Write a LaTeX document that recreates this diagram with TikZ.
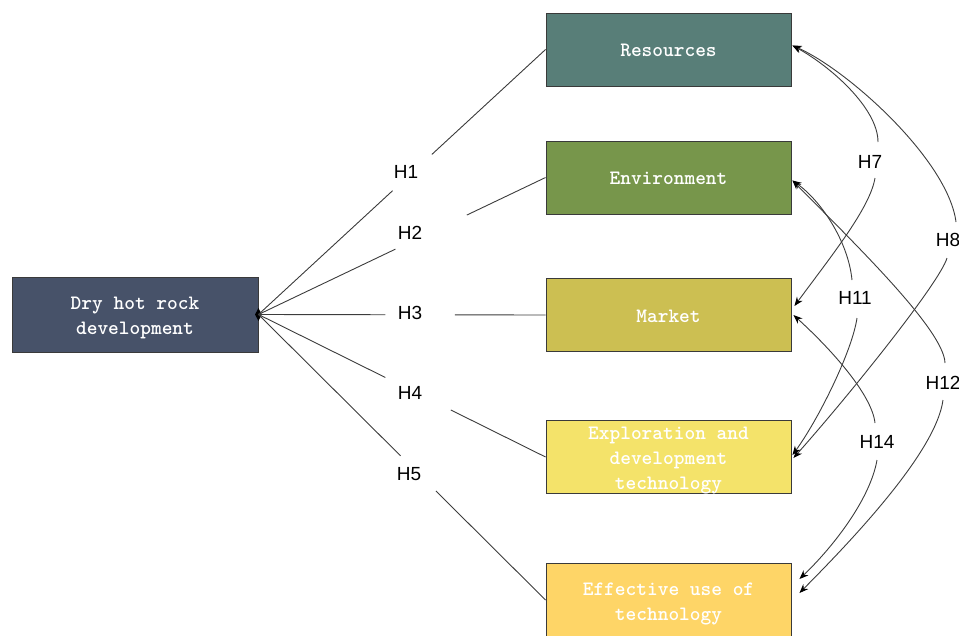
\documentclass[tikz,border=0pt]{standalone}
\usepackage{fontspec}
\newfontfamily\lblfont{Liberation Sans}
\newfontfamily\boxfont{lmmonolt10-bold.otf}
\usetikzlibrary{calc,arrows.meta,shapes.geometric}

\definecolor{cSource}{HTML}{475269}
\definecolor{cRes}{HTML}{587E78}
\definecolor{cEnv}{HTML}{77964B}
\definecolor{cMkt}{HTML}{CCBF52}
\definecolor{cExp}{HTML}{F4E36A}
\definecolor{cEff}{HTML}{FED567}
\definecolor{cLine}{HTML}{3C3C3C}
\definecolor{cBorder}{HTML}{3A3A3A}

\tikzset{
  box/.style={draw=cBorder, line width=0.9pt, minimum width=245pt, minimum height=73pt,
    inner sep=0pt},
  boxtxt/.style={inner sep=0pt, align=center, text=white,
    font=\boxfont\fontsize{20.4}{25}\selectfont},
  hyp/.style={font=\lblfont\fontsize{19}{22}\selectfont, text=black, inner sep=0pt},
  link/.style={draw=cLine, line width=0.9pt},
  rel/.style={draw=cLine, line width=0.9pt},
  tip/.style={-{Stealth[length=9pt,width=7pt,black]}},
  pit/.style={{Stealth[length=9pt,width=7pt,black]}-},
}

\begin{document}
\begin{tikzpicture}[x=1pt,y=-1pt]
\useasboundingbox (0,0) rectangle (959,635);

% boxes
\node[box, fill=cSource, minimum width=246pt, minimum height=75pt] (src) at (135,314.5) {};
\node[box, fill=cRes] (res) at (668.5,49.5) {};
\node[box, fill=cEnv] (env) at (668.5,177.5) {};
\node[box, fill=cMkt] (mkt) at (668.5,315) {};
\node[box, fill=cExp] (exp) at (668.5,457) {};
\node[box, fill=cEff] (eff) at (668.5,600) {};

% captions, set slightly below the box centres
\node[boxtxt] (srct) at ($(src.center)+(0,3.5)$) {Dry hot rock\\development};
\node[boxtxt] (rest) at ($(res.center)+(0,0.5)$) {Resources};
\node[boxtxt] (envt) at ($(env.center)+(0,1)$) {Environment};
\node[boxtxt] (mktt) at ($(mkt.center)+(0,1)$) {Market};
\node[boxtxt] (expt) at ($(exp.center)+(0,4)$) {Exploration and\\development\\technology};
\node[boxtxt] (efft) at ($(eff.center)+(0,3.5)$) {Effective use of\\technology};

% hub where the five links meet
\node[diamond, fill=black, inner sep=0pt, minimum width=7pt, minimum height=13pt] (hub) at (src.east) {};

% links from the source to each factor, broken around their labels
\node[hyp] (h1) at (406,172) {H1};
\node[hyp] (h2) at (410,233) {H2};
\node[hyp] (h3) at (410,313) {H3};
\node[hyp] (h4) at (410,393) {H4};
\node[hyp] (h5) at (409,474) {H5};

\draw[link] (src.east) -- ($(src.east)!0.467!(res.west)$) coordinate (a1);
\draw[link] ($(src.east)!0.604!(res.west)$) coordinate (b1) -- (res.west);
\draw[link] (src.east) -- ($(src.east)!0.477!(env.west)$) coordinate (a2);
\draw[link] ($(src.east)!0.726!(env.west)$) coordinate (b2) -- (env.west);
\draw[link] (src.east) -- ($(src.east)!0.442!(mkt.west)$) coordinate (a3);
\draw[link] ($(src.east)!0.684!(mkt.west)$) coordinate (b3) -- (mkt.west);
\draw[link] (src.east) -- ($(src.east)!0.442!(exp.west)$) coordinate (a4);
\draw[link] ($(src.east)!0.670!(exp.west)$) coordinate (b4) -- (exp.west);
\draw[link] (src.east) -- ($(src.east)!0.495!(eff.west)$) coordinate (a5);
\draw[link] ($(src.east)!0.618!(eff.west)$) coordinate (b5) -- (eff.west);

% relations between factors
\node[hyp] (h7) at (870,162) {H7};
\node[hyp] (h8) at (948,240) {H8};
\node[hyp] (h11) at (855,298) {H11};
\node[hyp] (h12) at (943,383) {H12};
\node[hyp] (h14) at (877,442) {H14};

\coordinate (r7a) at (878,142);  \coordinate (r7b) at (875,178);
\coordinate (r8a) at (956,222);  \coordinate (r8b) at (947,258);
\coordinate (r11a) at (852,280); \coordinate (r11b) at (857,318);
\coordinate (r12a) at (945,363); \coordinate (r12b) at (943,400);
\coordinate (r14a) at (875,423); \coordinate (r14b) at (877,460);

\coordinate (resR) at ($(res.east)+(1,-4)$);
\coordinate (envR) at ($(env.east)+(1,3)$);
\coordinate (mktA) at ($(mkt.east)+(3,-9)$);
\coordinate (mktB) at ($(mkt.east)+(2,0)$);
\coordinate (expA) at ($(exp.east)+(1,-2)$);
\coordinate (expB) at ($(exp.east)+(2,1)$);
\coordinate (effA) at ($(eff.east)+(8,-21)$);
\coordinate (effB) at ($(eff.east)+(8,-7)$);

% H7: Resources <-> Market
\draw[rel,pit] (resR) .. controls (830,66) and (878,108) .. (r7a);
\draw[rel,tip] (r7b) .. controls (870,208) and (832,255) .. (mktA);
% H8: Resources <-> Exploration
\draw[rel,pit] (resR) .. controls (848,70) and (948,160) .. (r8a);
\draw[rel,tip] (r8b) .. controls (940,282) and (852,392) .. (expB);
% H11: Environment <-> Exploration
\draw[rel,pit] (envR) .. controls (820,200) and (848,240) .. (r11a);
\draw[rel,tip] (r11b) .. controls (852,352) and (818,420) .. (expA);
% H12: Environment <-> Effective use
\draw[rel,pit] (envR) .. controls (855,244) and (944,330) .. (r12a);
\draw[rel,tip] (r12b) .. controls (936,452) and (852,540) .. (effB);
% H14: Market <-> Effective use
\draw[rel,pit] (mktB) .. controls (832,350) and (872,395) .. (r14a);
\draw[rel,tip] (r14b) .. controls (870,500) and (832,548) .. (effA);
\end{tikzpicture}
\end{document}
